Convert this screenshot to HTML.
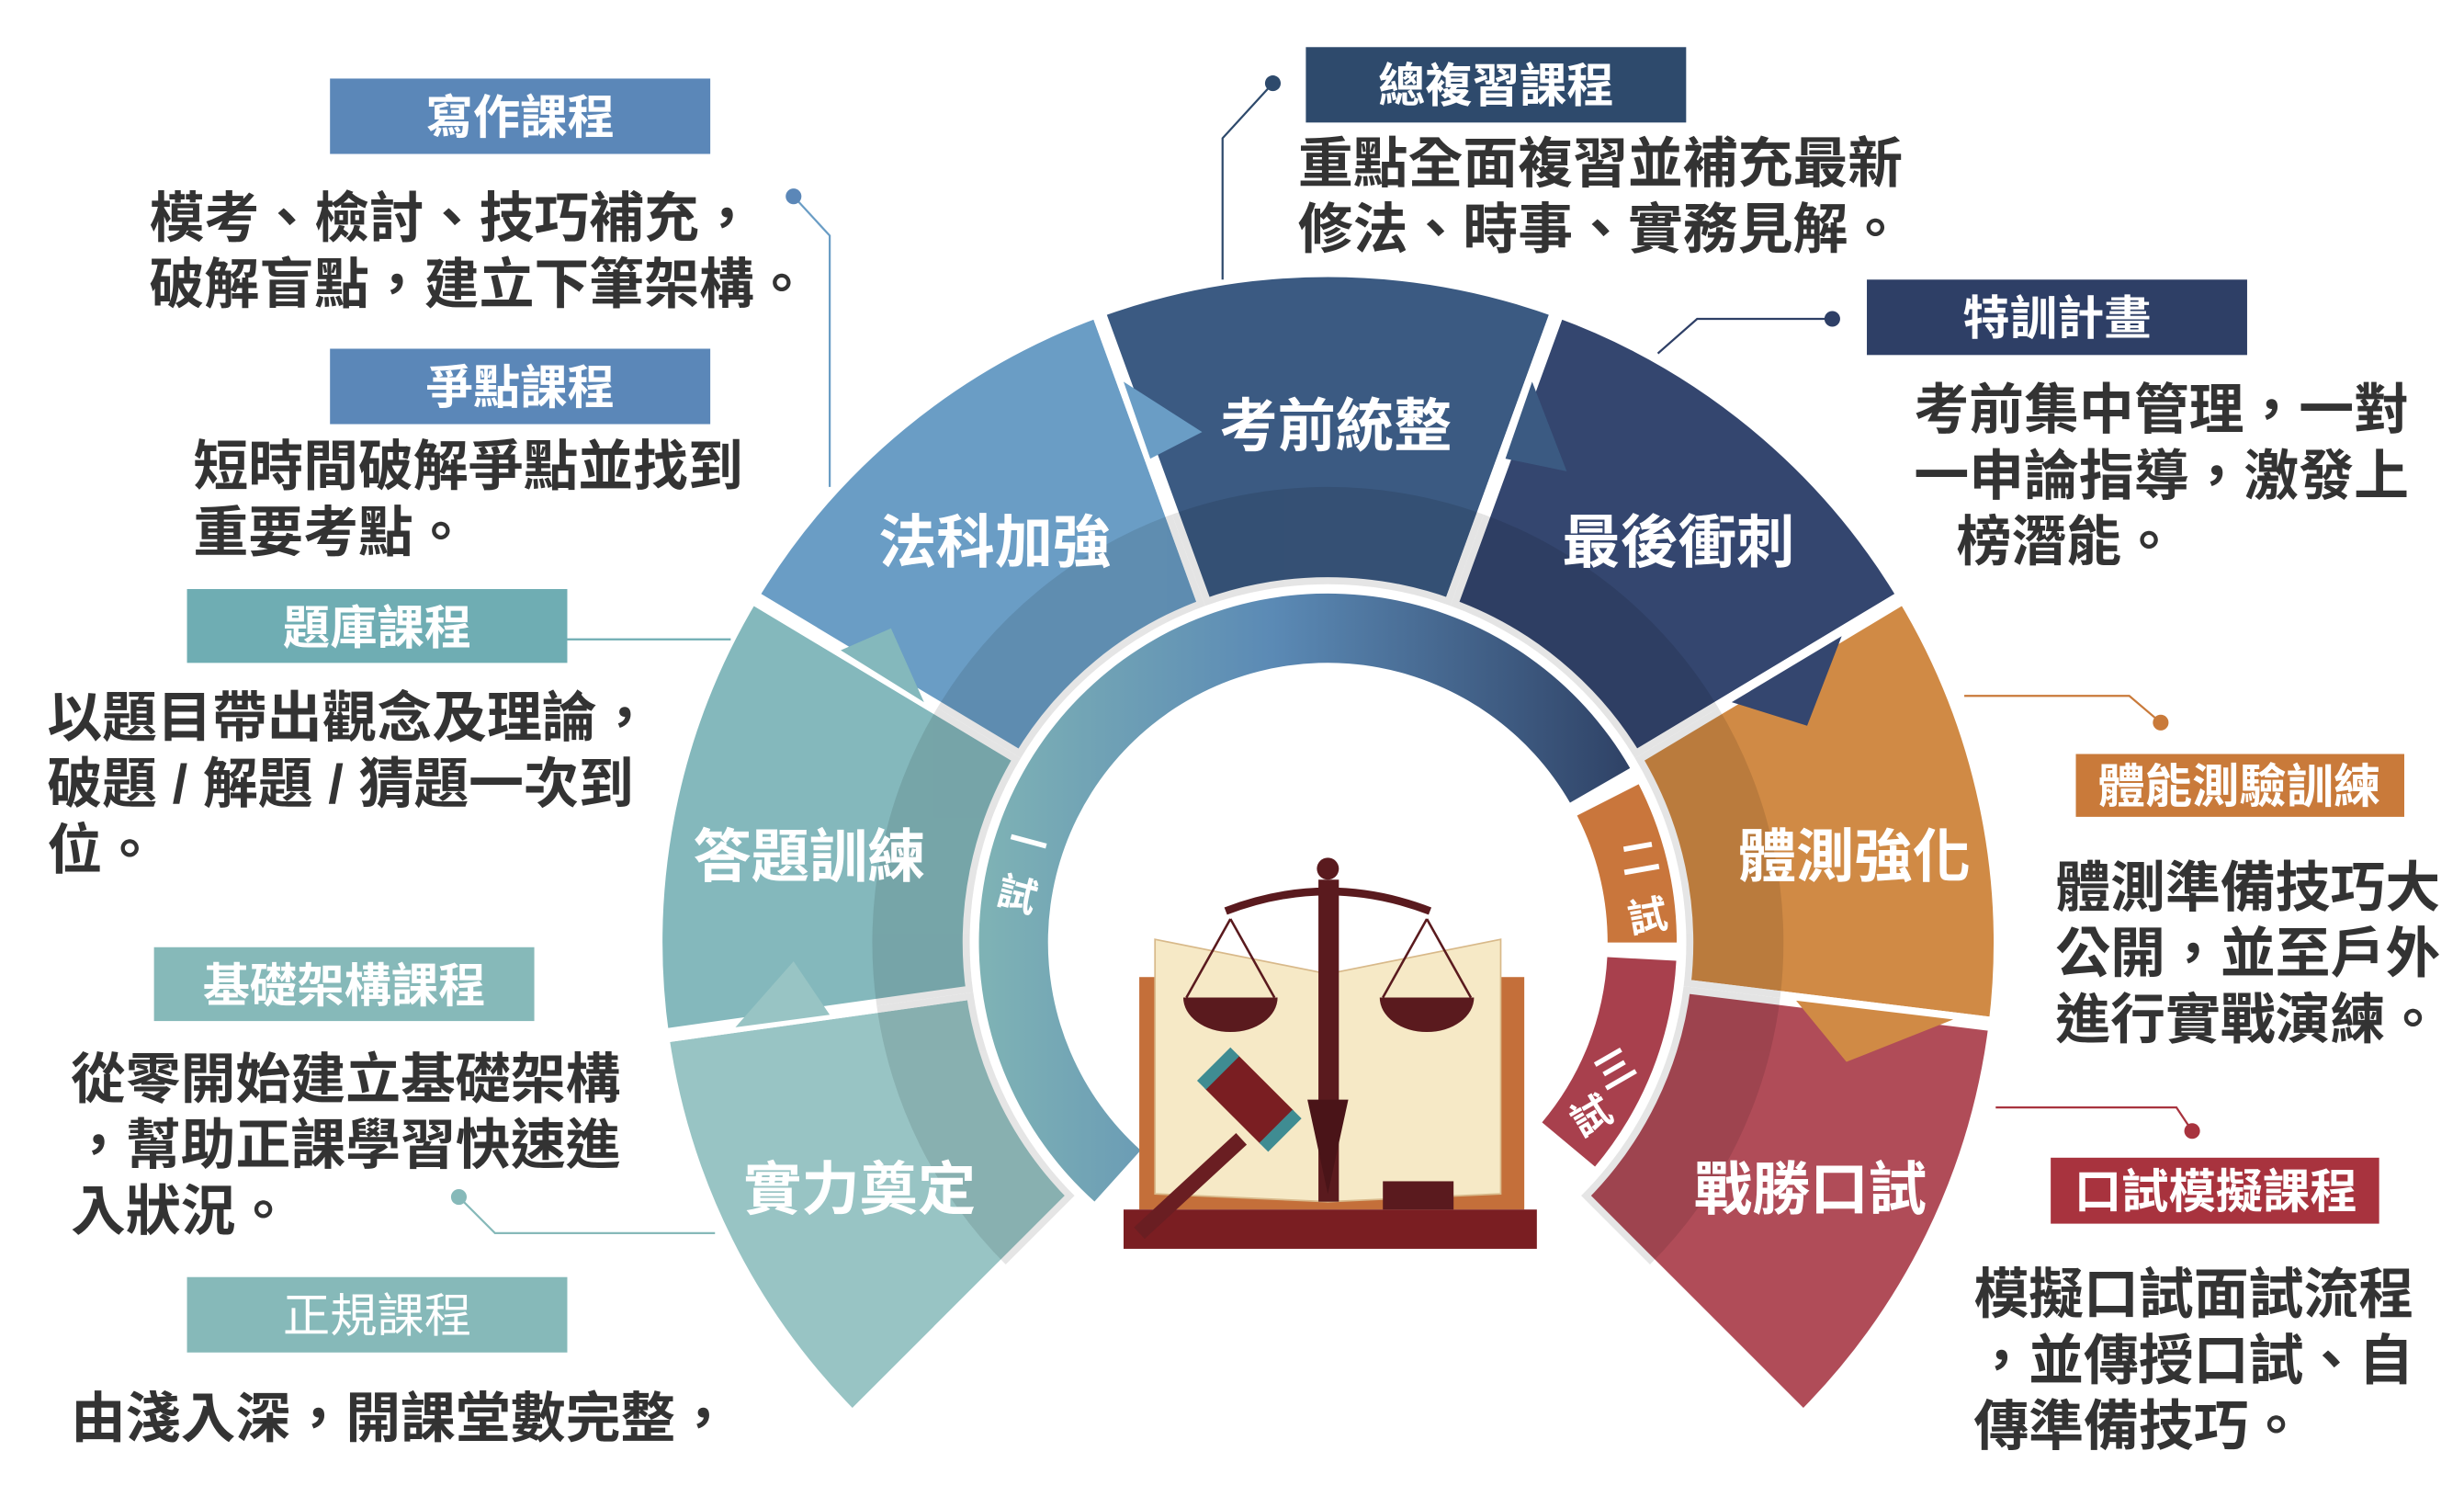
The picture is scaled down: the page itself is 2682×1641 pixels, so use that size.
<!DOCTYPE html>
<html><head><meta charset="utf-8"><style>
html,body{margin:0;padding:0;background:#fff;}
svg{display:block;}
text{font-family:"Liberation Sans","Noto Sans CJK TC",sans-serif;}
.b{fill:#fff;font-weight:bold;font-size:30px;text-anchor:middle;}
.t{fill:#333;font-size:35px;font-weight:bold;}
.s{fill:#fff;font-weight:bold;font-size:37px;text-anchor:middle;}
.v{fill:#fff;font-weight:bold;font-size:25px;text-anchor:middle;}
</style></head><body>
<svg width="2682" height="1641" viewBox="0 0 1568 960" preserveAspectRatio="none" xmlns="http://www.w3.org/2000/svg">
<defs>
<linearGradient id="g1" x1="0" y1="0" x2="1" y2="0">
<stop offset="0" stop-color="#7fb3b5"/><stop offset="0.45" stop-color="#5b8ab5"/><stop offset="1" stop-color="#2f4266"/>
</linearGradient>
</defs>
<g stroke="#fff" stroke-width="9">
<path d="M421.3,659.5 A428,428 0 0 0 542.4,902.6 L683.8,761.2 A228,228 0 0 1 619.3,631.7 Z" fill="#98c4c4"/>
<path d="M478.2,379.6 A428,428 0 0 0 421.3,659.5 L619.3,631.7 A228,228 0 0 1 649.6,482.6 Z" fill="#84b8bc"/>
<path d="M698.6,197.7 A428,428 0 0 0 478.2,379.6 L649.6,482.6 A228,228 0 0 1 767,385.7 Z" fill="#6a9dc5"/>
<path d="M991.4,197.7 A428,428 0 0 0 698.6,197.7 L767,385.7 A228,228 0 0 1 923,385.7 Z" fill="#3b5a82"/>
<path d="M1211.8,379.6 A428,428 0 0 0 991.4,197.7 L923,385.7 A228,228 0 0 1 1040.4,482.6 Z" fill="#34466f"/>
<path d="M1270,652.2 A428,428 0 0 0 1211.8,379.6 L1040.4,482.6 A228,228 0 0 1 1071.4,627.8 Z" fill="#d08a45"/>
<path d="M1147.6,902.6 A428,428 0 0 0 1270,652.2 L1071.4,627.8 A228,228 0 0 1 1006.2,761.2 Z" fill="#b04c58"/>
</g>
<g fill="#000" opacity="0.1">
<path d="M557.9,640.3 A290,290 0 0 0 640,805 L683.8,761.2 A228,228 0 0 1 619.3,631.7 Z"/>
<path d="M596.5,450.6 A290,290 0 0 0 557.9,640.3 L619.3,631.7 A228,228 0 0 1 649.6,482.6 Z"/>
<path d="M745.8,327.5 A290,290 0 0 0 596.5,450.6 L649.6,482.6 A228,228 0 0 1 767,385.7 Z"/>
<path d="M944.2,327.5 A290,290 0 0 0 745.8,327.5 L767,385.7 A228,228 0 0 1 923,385.7 Z"/>
<path d="M1093.5,450.6 A290,290 0 0 0 944.2,327.5 L923,385.7 A228,228 0 0 1 1040.4,482.6 Z"/>
<path d="M1132.8,635.3 A290,290 0 0 0 1093.5,450.6 L1040.4,482.6 A228,228 0 0 1 1071.4,627.8 Z"/>
<path d="M1050,805 A290,290 0 0 0 1132.8,635.3 L1071.4,627.8 A228,228 0 0 1 1006.2,761.2 Z"/>
</g>
<polygon points="715,243 732,292 765,275" fill="#6a9dc5"/>
<polygon points="975,243 958,292 997,300" fill="#3b5a82"/>
<polygon points="1102,447 1172,405 1150,462" fill="#34466f"/>
<polygon points="1143,637 1243,649 1175,676" fill="#d08a45"/>
<polygon points="528,646 468,654 505,612" fill="#98c4c4"/>
<polygon points="588,447 535,414 567,400" fill="#84b8bc"/>
<path d="M1037.3,489 A222,222 0 1 0 696.5,764.9 L725.9,732.3 A178,178 0 1 1 999.1,511 Z" fill="url(#g1)"/>
<path d="M1042.8,499.2 A222,222 0 0 1 1067,600 L1023,600 A178,178 0 0 0 1003.6,519.2 Z" fill="#c9763c"/>
<path d="M1066.7,611.6 A222,222 0 0 1 1015,742.7 L981.3,714.5 A178,178 0 0 0 1022.8,609.3 Z" fill="#a8404d"/>
<text class="s" x="633" y="358">法科加強</text>
<text class="s" x="850" y="284">考前統整</text>
<text class="s" x="1068" y="358">最後衝刺</text>
<text class="s" x="515" y="558">答題訓練</text>
<text class="s" x="547" y="770">實力奠定</text>
<text class="s" x="1180" y="558">體測強化</text>
<text class="s" x="1152" y="770">戰勝口試</text>
<text class="v" x="652" y="545" transform="rotate(15 652 545)">一</text>
<text class="v" x="645" y="578" transform="rotate(15 645 578)">試</text>
<text class="v" x="1045" y="555" transform="rotate(-10 1045 555)">二</text>
<text class="v" x="1050" y="592" transform="rotate(-10 1050 592)">試</text>
<text class="v" x="1032" y="688" transform="rotate(-30 1032 688)">三</text>
<text class="v" x="1017" y="718" transform="rotate(-30 1017 718)">試</text>
<rect x="725" y="622" width="245" height="148" fill="#c46f3a"/>
<path d="M735,598 L845,620 L845,765 L735,760 Z" fill="#f6e9c6" stroke="#d8b98a"/>
<path d="M955,598 L845,620 L845,765 L955,760 Z" fill="#f6e9c6" stroke="#d8b98a"/>
<rect x="715" y="770" width="263" height="25" fill="#7a1e22"/>
<rect x="880" y="752" width="45" height="18" fill="#5a1a1e"/>
<rect x="839" y="560" width="13" height="205" fill="#5a1a1e"/>
<circle cx="845" cy="553" r="7" fill="#5a1a1e"/>
<path d="M780,580 Q845,555 910,580" stroke="#5a1a1e" stroke-width="5" fill="none"/>
<path d="M753,635 A30,22 0 0 0 813,635 Z" fill="#5a1a1e"/>
<path d="M878,635 A30,22 0 0 0 938,635 Z" fill="#5a1a1e"/>
<path d="M783,585 L755,635 M783,585 L811,635 M908,585 L880,635 M908,585 L936,635" stroke="#5a1a1e" stroke-width="1.5"/>
<path d="M832,700 L845,760 L858,700 Z" fill="#4a1418"/>
<line x1="725" y1="785" x2="790" y2="725" stroke="#6a1e22" stroke-width="10"/>
<g transform="rotate(45 795 700)"><rect x="770" y="685" width="50" height="30" fill="#7a1e22"/><rect x="763" y="685" width="8" height="30" fill="#3f8c92"/><rect x="819" y="685" width="8" height="30" fill="#3f8c92"/></g>
<rect x="210" y="50" width="242" height="48" fill="#5b87b8"/><text class="b" x="331" y="85">寫作課程</text>
<rect x="210" y="222" width="242" height="48" fill="#5b87b8"/><text class="b" x="331" y="257">爭點課程</text>
<rect x="119" y="375" width="242" height="47" fill="#6fadb3"/><text class="b" x="240" y="410">題庫課程</text>
<rect x="98" y="603" width="242" height="47" fill="#86b9b9"/><text class="b" x="219" y="638">基礎架構課程</text>
<rect x="119" y="813" width="242" height="48" fill="#86b9b9"/><text class="b" x="240" y="848" style="font-weight:normal">正規課程</text>
<rect x="831" y="30" width="242" height="48" fill="#2e4a6c"/><text class="b" x="952" y="65">總複習課程</text>
<rect x="1188" y="178" width="242" height="48" fill="#2e3f66"/><text class="b" x="1309" y="213">特訓計畫</text>
<rect x="1321" y="480" width="209" height="40" fill="#c97a3a"/><text class="b" x="1425" y="511">體能測驗訓練</text>
<rect x="1305" y="737" width="209" height="42" fill="#a8333e"/><text class="b" x="1410" y="769">口試模擬課程</text>
<text class="t" x="95" y="151">模考、檢討、技巧補充，</text>
<text class="t" x="95" y="193">破解盲點，建立下筆架構。</text>
<text class="t" x="123" y="309">短時間破解爭點並找到</text>
<text class="t" x="123" y="351">重要考點。</text>
<text class="t" x="30" y="469">以題目帶出觀念及理論，</text>
<text class="t" x="30" y="511">破題 / 解題 / 猜題一次到</text>
<text class="t" x="30" y="553">位。</text>
<text class="t" x="45" y="699">從零開始建立基礎架構</text>
<text class="t" x="45" y="741">，幫助正課學習快速進</text>
<text class="t" x="45" y="783">入狀況。</text>
<text class="t" x="45" y="915">由淺入深，開課堂數完整，</text>
<text class="t" x="826" y="116">重點全面複習並補充最新</text>
<text class="t" x="826" y="158">修法、時事、實務見解。</text>
<text class="t" x="1218" y="273">考前集中管理，一對</text>
<text class="t" x="1218" y="315">一申論指導，激發上</text>
<text class="t" x="1245" y="357">榜潛能。</text>
<text class="t" x="1308" y="577">體測準備技巧大</text>
<text class="t" x="1308" y="619">公開，並至戶外</text>
<text class="t" x="1308" y="661">進行實戰演練。</text>
<text class="t" x="1256" y="836">模擬口試面試流程</text>
<text class="t" x="1256" y="878">，並傳授口試、自</text>
<text class="t" x="1256" y="920">傳準備技巧。</text>
<g fill="none" stroke-width="1.3">
<path d="M505,125 L528,150 L528,310" stroke="#6a9dc5"/>
<path d="M361,407 L465,407" stroke="#6fadb3"/>
<path d="M292,762 L315,785 L455,785" stroke="#86b9b9"/>
<path d="M810,53 L778,88 L778,178" stroke="#2e4a6c"/>
<path d="M1166,203 L1080,203 L1055,225" stroke="#2e3f66"/>
<path d="M1250,443 L1355,443 L1375,460" stroke="#c97a3a"/>
<path d="M1270,705 L1385,705 L1395,720" stroke="#a8333e"/>
</g>
<circle cx="505" cy="125" r="5" fill="#5b87b8"/>
<circle cx="292" cy="762" r="5" fill="#86b9b9"/>
<circle cx="810" cy="53" r="5" fill="#2e4a6c"/>
<circle cx="1166" cy="203" r="5" fill="#2e3f66"/>
<circle cx="1375" cy="460" r="5" fill="#c97a3a"/>
<circle cx="1395" cy="720" r="5" fill="#a8333e"/>
</svg>
</body></html>
